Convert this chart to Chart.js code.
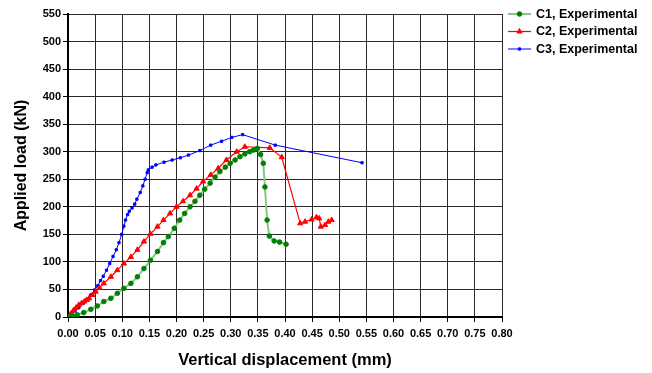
<!DOCTYPE html>
<html>
<head>
<meta charset="utf-8">
<title>Applied load vs vertical displacement</title>
<script src="https://cdn.jsdelivr.net/npm/chart.js@4/dist/chart.umd.min.js"></script>
<style>
  html, body { margin: 0; padding: 0; background: #fff; }
  canvas { display: block; }
</style>
</head>
<body>
<canvas id="grafico" width="652" height="373"></canvas>
<script>
// C1 - displacement (mm) / load (kN)
const c1X = [0, 0.008, 0.017, 0.029, 0.042, 0.054, 0.066, 0.079, 0.091, 0.103, 0.116, 0.128, 0.140, 0.152,
  0.165, 0.176, 0.185, 0.196, 0.206, 0.215, 0.225, 0.234, 0.243, 0.252, 0.262, 0.271, 0.280, 0.290,
  0.299, 0.308, 0.317, 0.326, 0.335, 0.342, 0.349, 0.355, 0.360, 0.363, 0.367, 0.371, 0.380, 0.390, 0.402]
const c1Y = [0, 2, 4, 8, 14, 20, 28, 34, 43, 52, 61, 73, 88, 103,
  119, 135, 146, 161, 176, 188, 200, 210, 221, 232, 243, 254, 264, 272,
  279, 285, 291, 296, 300, 303, 306, 295, 279, 236, 176, 147, 138, 136, 132]

// C2
const c2X = [0, 0.005, 0.010, 0.015, 0.020, 0.025, 0.030, 0.035, 0.039, 0.045, 0.051, 0.058, 0.066, 0.079,
  0.091, 0.103, 0.116, 0.128, 0.140, 0.152, 0.165, 0.176, 0.188, 0.200, 0.212, 0.225, 0.237, 0.249,
  0.263, 0.277, 0.292, 0.311, 0.326, 0.372, 0.394, 0.428, 0.437, 0.449, 0.458, 0.463,
  0.466, 0.474, 0.480, 0.486]
const c2Y = [0, 6, 12, 17, 22, 25, 28, 31, 34, 40, 46, 53, 61, 73,
  85, 97, 109, 122, 137, 151, 164, 176, 188, 200, 210, 221, 233, 246,
  258, 270, 285, 300, 309, 307, 290, 170, 173, 177, 181, 179,
  164, 167, 173, 176]

// C3
const c3X = [0, 0.007, 0.013, 0.020, 0.028, 0.035, 0.042, 0.049, 0.055, 0.060, 0.065, 0.071, 0.077, 0.083,
  0.089, 0.094, 0.099, 0.103, 0.106, 0.110, 0.113, 0.118, 0.123, 0.127, 0.133, 0.138, 0.142, 0.146,
  0.148, 0.155, 0.162, 0.177, 0.192, 0.207, 0.222, 0.243, 0.263, 0.283, 0.302, 0.322, 0.382, 0.542]
const c3Y = [0, 5, 11, 17, 25, 32, 40, 49, 57, 66, 74, 85, 97, 110,
  122, 135, 150, 165, 176, 186, 192, 198, 205, 214, 226, 238, 250, 262,
  267, 272, 276, 281, 285, 289, 294, 302, 312, 319, 326, 331, 312, 280]

const nomes = ['C1, Experimental', 'C2, Experimental', 'C3, Experimental']

const pontos = (xs, ys) => xs.map((x, i) => ({ x: x, y: ys[i] }))

const fonte = 'Liberation Sans, Arial, sans-serif'

// legenda desenhada a direita da area do grafico
const legenda = {
  id: 'legenda',
  afterDraw(chart) {
    const ctx = chart.ctx
    ctx.save()
    chart.data.datasets.forEach((ds, i) => {
      const y = 14 + i * 17.5
      ctx.strokeStyle = ds.borderColor
      ctx.lineWidth = ds.borderWidth
      ctx.beginPath()
      ctx.moveTo(508, y)
      ctx.lineTo(531, y)
      ctx.stroke()
      ctx.fillStyle = ds.pointBackgroundColor
      ctx.strokeStyle = ds.pointBorderColor
      ctx.lineWidth = 1
      Chart.helpers.drawPoint(ctx, {
        pointStyle: ds.pointStyle,
        radius: ds.pointRadius,
        borderWidth: 1
      }, 519.5, y)
      ctx.fillStyle = '#000'
      ctx.font = 'bold 12.5px ' + fonte
      ctx.textAlign = 'left'
      ctx.textBaseline = 'middle'
      ctx.fillText(ds.label, 536, y + 0.5)
    })
    ctx.restore()
  }
}

new Chart(document.getElementById('grafico'), {
  type: 'line',
  data: {
    datasets: [
      {
        label: nomes[0],
        data: pontos(c1X, c1Y),
        borderColor: '#88c488',
        borderWidth: 2,
        pointStyle: 'circle',
        pointRadius: 2.3,
        pointBackgroundColor: '#008000',
        pointBorderColor: '#008000',
        pointBorderWidth: 1,
        tension: 0
      },
      {
        label: nomes[1],
        data: pontos(c2X, c2Y),
        borderColor: '#ff0000',
        borderWidth: 1.2,
        pointStyle: 'triangle',
        pointRadius: 3,
        pointBackgroundColor: '#ff0000',
        pointBorderColor: '#ff0000',
        pointBorderWidth: 1,
        tension: 0
      },
      {
        label: nomes[2],
        data: pontos(c3X, c3Y),
        borderColor: '#0000ff',
        borderWidth: 1,
        pointStyle: 'rect',
        pointRadius: 1.6,
        pointBackgroundColor: '#0000ff',
        pointBorderColor: '#0000ff',
        pointBorderWidth: 1,
        tension: 0
      }
    ]
  },
  options: {
    responsive: false,
    animation: false,
    devicePixelRatio: 1,
    layout: { padding: { left: 0, right: 150, top: 14, bottom: 0 } },
    plugins: {
      legend: { display: false },
      tooltip: { enabled: false }
    },
    scales: {
      x: {
        type: 'linear',
        min: 0,
        max: 0.8,
        afterFit: (s) => { s.height = 56 },
        ticks: {
          stepSize: 0.05,
          padding: 5,
          color: '#000',
          font: { family: fonte, size: 11, weight: 'bold' },
          maxRotation: 0,
          autoSkip: false,
          callback: (v) => Number(v).toFixed(2)
        },
        grid: { color: '#2a2a2a', lineWidth: 1, tickLength: 5, tickColor: '#000' },
        border: { color: '#000', width: 2 },
        title: {
          display: true,
          text: 'Vertical displacement (mm)',
          color: '#000',
          font: { family: fonte, size: 16.5, weight: 'bold' },
          padding: { top: 0, bottom: 3 }
        }
      },
      y: {
        min: 0,
        max: 550,
        afterFit: (s) => { s.width = 68 },
        ticks: {
          stepSize: 50,
          padding: 2,
          color: '#000',
          font: { family: fonte, size: 11, weight: 'bold' }
        },
        grid: { color: '#2a2a2a', lineWidth: 1, tickLength: 5, tickColor: '#000' },
        border: { color: '#000', width: 2 },
        title: {
          display: true,
          text: 'Applied load (kN)',
          color: '#000',
          font: { family: fonte, size: 16, weight: 'bold' },
          padding: { top: 12, bottom: 0 }
        }
      }
    }
  },
  plugins: [legenda]
})
</script>
</body>
</html>
